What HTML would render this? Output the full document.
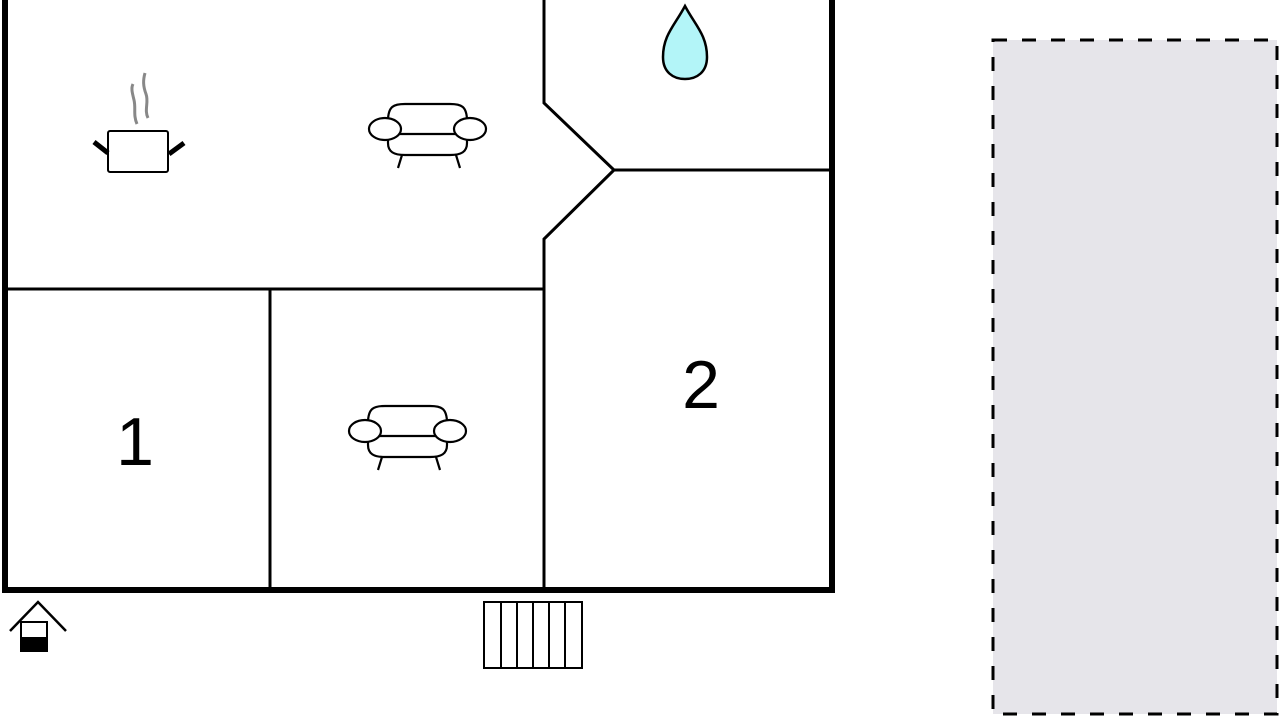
<!DOCTYPE html>
<html><head><style>html,body{margin:0;padding:0;background:#fff;width:1280px;height:720px;overflow:hidden}</style></head>
<body>
<svg width="1280" height="720" viewBox="0 0 1280 720" xmlns="http://www.w3.org/2000/svg">
<rect x="993" y="40" width="284" height="674" fill="#e6e5ea" stroke="#000" stroke-width="3" stroke-dasharray="14,15"/>
<g stroke="#000" fill="none">
<path d="M5 0 V590 H832 V0" stroke-width="6"/>
<path d="M5 289 H544" stroke-width="3"/>
<path d="M270 289 V588" stroke-width="3"/>
<path d="M544 0 V103 L614 170 L544 239 V588" stroke-width="3"/>
<path d="M614 170 H830" stroke-width="3"/>
</g>
<path d="M685 6 C 675 25, 663 35, 663 57 C 663 72, 673 79, 685 79 C 697 79, 707 72, 707 57 C 707 35, 695 25, 685 6 Z" fill="#b3f5f8" stroke="#000" stroke-width="2.5"/>
<!-- pot -->
<g stroke="#888" stroke-width="3" fill="none">
<path d="M137 124 C 133 115, 136 108, 134 100 C 132 92, 131 88, 133 84"/>
<path d="M148 118 C 144 110, 149 102, 146 94 C 143 86, 143 80, 145 73"/>
</g>
<rect x="108" y="131" width="60" height="41" rx="2" fill="none" stroke="#000" stroke-width="2"/>
<path d="M94 142 L108 153 M184 143 L169 154" stroke="#000" stroke-width="5"/>
<!-- sofas -->
<g id="s" fill="#fff" stroke="#000" stroke-width="2.2">
<path d="M388 121 C 388 106, 394 104, 405 104 H450 C 461 104, 467 106, 467 121 V143 C 467 152, 461 155, 450 155 H405 C 394 155, 388 152, 388 143 Z"/>
<path d="M388 134 H467"/>
<path d="M402 155 L398 168 M456 155 L460 168"/>
<ellipse cx="385" cy="129" rx="16" ry="11"/>
<ellipse cx="470" cy="129" rx="16" ry="11"/>
</g>
<use href="#s" x="-20" y="302"/>
<text x="135" y="465" font-family="Liberation Sans, sans-serif" font-size="68" text-anchor="middle">1</text>
<text x="701" y="408" font-family="Liberation Sans, sans-serif" font-size="68" text-anchor="middle">2</text>
<!-- house icon -->
<path d="M10 631 L38 602 L66 631" fill="none" stroke="#000" stroke-width="2.5"/>
<rect x="21" y="622" width="26" height="29" fill="#fff" stroke="#000" stroke-width="2"/>
<rect x="20" y="637" width="28" height="15" fill="#000"/>
<!-- stairs -->
<g fill="none" stroke="#000" stroke-width="2">
<rect x="484" y="602" width="98" height="66"/>
<path d="M501 602V668 M517 602V668 M533 602V668 M549 602V668 M565 602V668"/>
</g>
</svg>
</body></html>
